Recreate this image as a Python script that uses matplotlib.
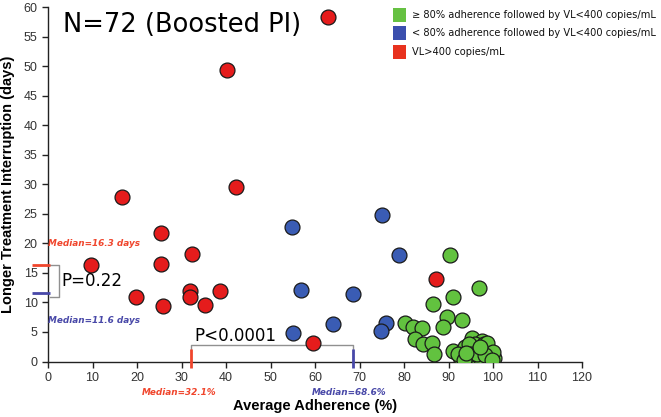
import matplotlib
matplotlib.use("Agg")
import matplotlib.pyplot as plt
from matplotlib.patches import Rectangle

# ---- data ----
green_x = [90.3, 96.9, 91.0, 86.5, 89.7, 93.0, 88.8, 80.2, 82.1, 84.0, 82.5, 84.3, 86.4, 86.7,
           91.1, 95.2, 97.6, 98.4, 93.3, 94.8, 96.8, 99.7, 100.2, 92.6, 94.1, 97.8,
           95.8, 96.3, 99.0, 98.9, 95.5, 97.2, 93.8, 99.4, 96.0, 94.6, 97.9, 98.6, 100.0,
           92.2, 95.1, 96.5, 98.2, 99.8, 93.5, 97.0, 94.0]
green_y = [18.1, 12.4, 11.0, 9.7, 7.5, 7.0, 5.9, 6.5, 5.8, 5.7, 3.8, 3.0, 3.1, 1.3,
           1.7, 3.9, 3.5, 2.4, 1.7, 1.7, 1.8, 1.3, 0.6, 0.7, 0.7, 0.7,
           0.9, 2.6, 0.5, 1.8, 0.4, 0.4, 2.4, 0.9, 3.0, 2.9, 2.9, 3.2, 1.6,
           1.2, 1.2, 1.3, 1.1, 0.2, 0.3, 2.4, 1.4]
blue_x = [54.8, 75.0, 78.9, 56.9, 68.6, 64.0, 76.0, 74.8, 55.1]
blue_y = [22.8, 24.9, 18.1, 12.1, 11.4, 6.4, 6.6, 5.2, 4.8]
red_x = [62.9, 40.3, 42.2, 16.6, 25.3, 32.3, 9.6, 25.3, 19.8, 25.8, 31.8, 32.0, 35.2, 38.7, 59.6, 87.3]
red_y = [58.4, 49.4, 29.6, 27.9, 21.7, 18.2, 16.4, 16.5, 11.0, 9.4, 11.9, 10.9, 9.6, 11.9, 3.2, 13.9]

legend_labels = ["\u2265 80% adherence followed by VL<400 copies/mL",
                 "< 80% adherence followed by VL<400 copies/mL",
                 "VL>400 copies/mL"]
median_days_fail = 16.3
median_days_low = 11.6
median_adh_fail = 32.1
median_adh_low = 68.6

C_GREEN = "#62c23f"
C_BLUE = "#3a5cb4"
C_RED = "#e51c1c"
C_REDLINE = "#f0452c"
C_BLUELINE = "#4848a8"

fig = plt.figure(figsize=(6.61, 4.17), dpi=100)
ax = fig.add_axes([48/661, (417-361.5)/417, 534/661, 354.2/417])

kw = dict(s=115, edgecolors="#1a1a1a", linewidths=0.9, zorder=3)
ax.scatter(green_x, green_y, c=C_GREEN, **kw)
ax.scatter(blue_x, blue_y, c=C_BLUE, **kw)
ax.scatter(red_x, red_y, c=C_RED, **kw)

ax.set_xlim(0, 120)
ax.set_ylim(0, 60)
ax.set_xticks(range(0, 121, 10))
ax.set_yticks(range(0, 61, 5))
for s in ["top", "right"]:
    ax.spines[s].set_visible(False)
for s in ["left", "bottom"]:
    ax.spines[s].set_color("#222222")
    ax.spines[s].set_linewidth(1.0)
ax.tick_params(direction="out", length=4, width=1, colors="#222222",
               labelsize=9, labelcolor="#333333")
for lab in ax.get_xticklabels() + ax.get_yticklabels():
    lab.set_family("Liberation Sans")

ax.set_xlabel("Average Adherence (%)", fontsize=10.5, fontweight="bold",
              family="Liberation Sans", labelpad=11)
ax.set_ylabel("Longer Treatment Interruption (days)", fontsize=10.5,
              fontweight="bold", family="Liberation Sans", labelpad=6)

# title text
ax.text(3.3, 57.0, "N=72 (Boosted PI)", fontsize=18.5, family="DejaVu Sans",
        va="center", ha="left", color="black")

# y-axis medians
ax.plot([-3.7, 0.45], [median_days_fail, median_days_fail], color=C_REDLINE, lw=2,
        clip_on=False, zorder=4, solid_capstyle="butt")
ax.plot([-3.7, 0.45], [median_days_low, median_days_low], color=C_BLUELINE, lw=2,
        clip_on=False, zorder=4, solid_capstyle="butt")
ax.plot([0.45, 2.5, 2.5, 0.45], [median_days_fail, median_days_fail, 10.9, 10.9],
        color="#909090", lw=1, clip_on=False, zorder=2)
ax.text(3.1, 13.7, "P=0.22", fontsize=12, va="center", ha="left", family="DejaVu Sans")
ax.text(0.1, 20.0, "Median=16.3 days", fontsize=6.4, color=C_REDLINE, style="italic",
        fontweight="bold", va="center", ha="left")
ax.text(0.1, 6.9, "Median=11.6 days", fontsize=6.4, color=C_BLUELINE, style="italic",
        fontweight="bold", va="center", ha="left")

# x-axis medians
ax.plot([median_adh_fail, median_adh_fail], [-1.1, 2.1], color=C_REDLINE, lw=2,
        clip_on=False, zorder=4, solid_capstyle="butt")
ax.plot([median_adh_low, median_adh_low], [-1.1, 2.1], color=C_BLUELINE, lw=2,
        clip_on=False, zorder=4, solid_capstyle="butt")
ax.plot([median_adh_fail, median_adh_fail, median_adh_low, median_adh_low],
        [2.1, 2.8, 2.8, 2.1], color="#909090", lw=1, zorder=2)
ax.text(33.0, 4.3, "P<0.0001", fontsize=12, va="center", ha="left", family="DejaVu Sans")
ax.text(29.5, -5.3, "Median=32.1%", fontsize=6.4, color=C_REDLINE, style="italic",
        fontweight="bold", va="center", ha="center", clip_on=False)
ax.text(67.6, -5.3, "Median=68.6%", fontsize=6.4, color=C_BLUELINE, style="italic",
        fontweight="bold", va="center", ha="center", clip_on=False)

# legend (manual, figure coords in pixels)
leg_cols = ["#66c142", "#3b4fae", "#e8321e"]
leg_y = [15, 33, 52]
for col, yy, lab in zip(leg_cols, leg_y, legend_labels):
    fig.patches.append(Rectangle((393/661, (417-yy-6.5)/417), 13/661, 13/417,
                                 transform=fig.transFigure, facecolor=col,
                                 edgecolor="none"))
    fig.text(412/661, (417-yy)/417, lab, fontsize=7.1, va="center", ha="left",
             family="DejaVu Sans", color="#111111")

fig.savefig("out.png", dpi=100)
